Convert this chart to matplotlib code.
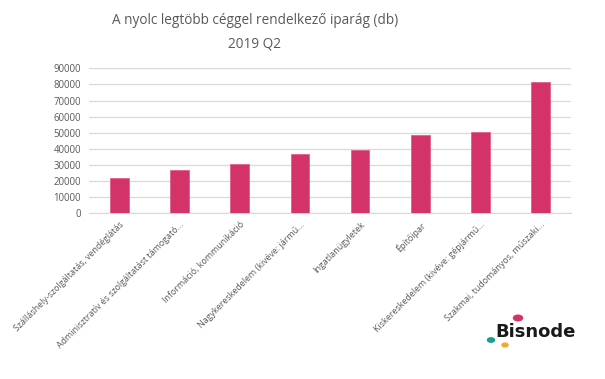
import matplotlib.pyplot as plt
from matplotlib.patches import Circle

# adatok
categories = [
    "Szálláshely-szolgáltatás, vendéglátás",
    "Adminisztratív és szolgáltatást támogató...",
    "Információ, kommunikáció",
    "Nagykereskedelem (kivéve: jármű...",
    "Ingatlanügyletek",
    "Építőipar",
    "Kiskereskedelem (kivéve: gépjármű...",
    "Szakmai, tudományos, műszaki...",
]
values = [21800, 26700, 30400, 36800, 39300, 48800, 50700, 81700]
yticks = list(range(0, 90001, 10000))

text_color = "#595959"
plt.rcParams['font.family'] = ['Open Sans', 'DejaVu Sans']

fig = plt.figure(figsize=(6.05, 3.79), dpi=100)
ax = fig.add_axes([89.3 / 605, 1 - 213.3 / 379, 481.4 / 605, 145 / 379])

x = range(len(categories))
ax.bar(x, values, width=0.31, color="#d4336a", edgecolor="#e0608c", linewidth=0.6, zorder=3)

ax.set_xlim(-0.5, len(categories) - 0.5)
ax.set_ylim(0, 90000)
ax.set_yticks(yticks)
ax.set_yticklabels([str(v) for v in yticks], fontsize=6.9, color=text_color)
ax.grid(axis='y', color="#d9d9d9", linewidth=0.9, zorder=0)
ax.set_xticks(list(x))
ax.set_xticklabels(categories, rotation=45, ha='right', rotation_mode='anchor',
                   fontsize=6.4, color=text_color)
ax.tick_params(axis='x', length=0, pad=5)
ax.tick_params(axis='y', length=0, pad=6)
for s in ['top', 'right', 'left']:
    ax.spines[s].set_visible(False)
ax.spines['bottom'].set_color("#d9d9d9")

# cím
fig.text(255 / 605, 1 - 21 / 379, "A nyolc legtöbb céggel rendelkező iparág (db)",
         ha='center', va='center', fontsize=9.8, color=text_color)
fig.text(255 / 605, 1 - 44 / 379, "2019 Q2",
         ha='center', va='center', fontsize=9.8, color=text_color)

# logó
fig.text(536 / 605, 1 - 332 / 379, "Bisnode", ha='center', va='center',
         fontsize=13, fontweight='bold', color="#1a1a1a", family=['DejaVu Sans'])
for cx, cy, r, c in [(518, 318, 4.5, "#d4336a"), (491, 340, 3.5, "#1a9e8f"), (505, 345, 3, "#f2a72e")]:
    fig.patches.append(Circle((cx / 605, 1 - cy / 379), r / 605, transform=fig.transFigure,
                              color=c, figure=fig))

fig.savefig("out.png", dpi=100)
